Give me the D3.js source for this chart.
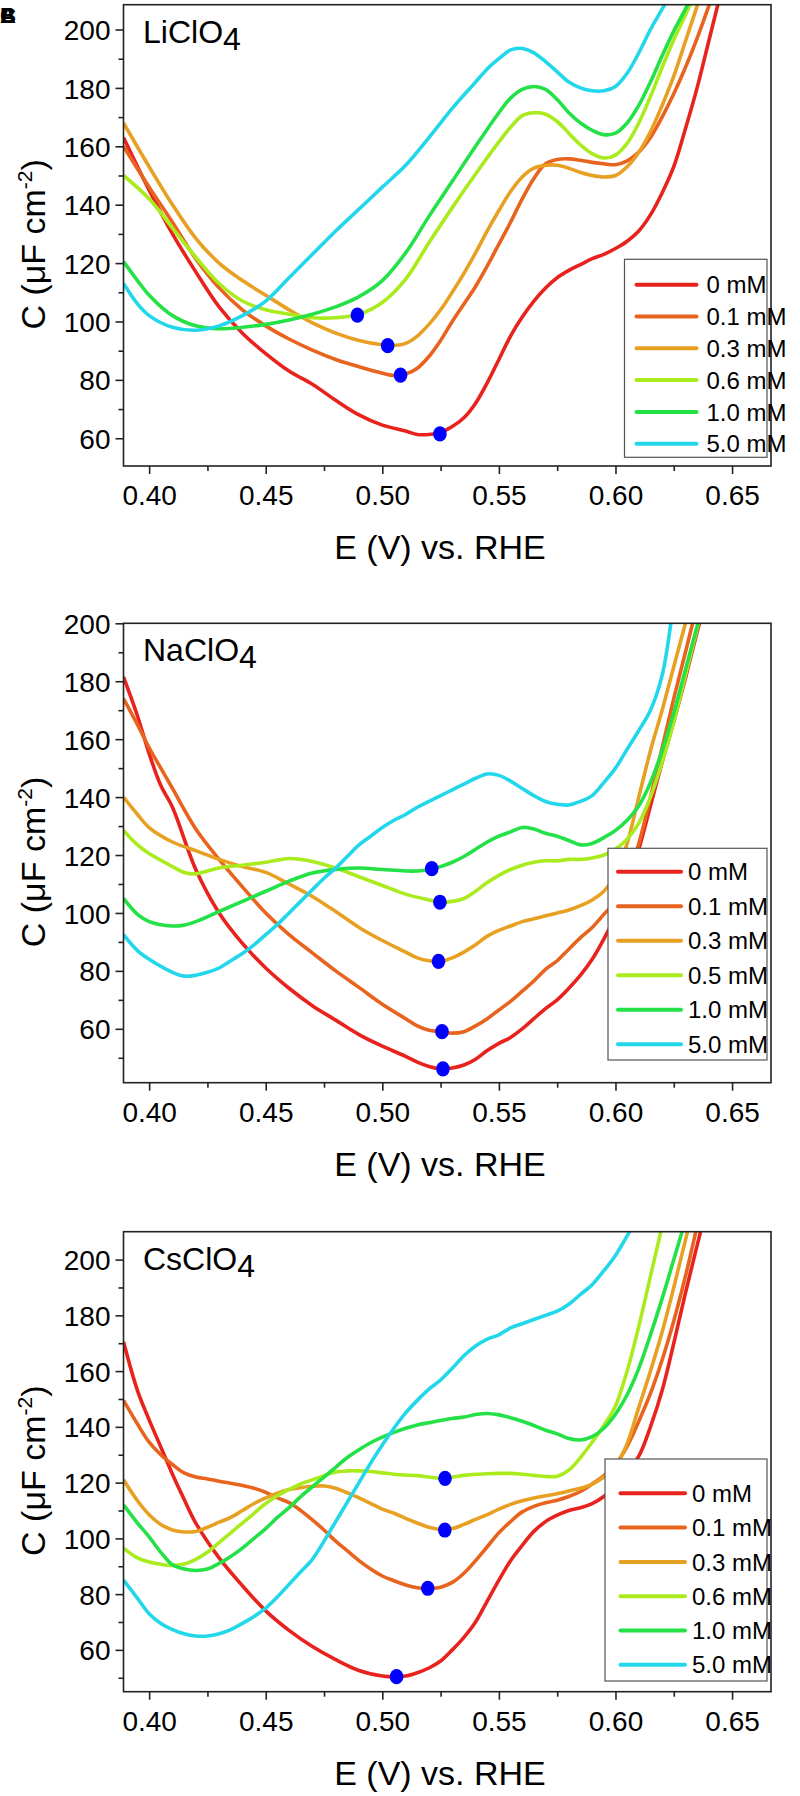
<!DOCTYPE html>
<html>
<head>
<meta charset="utf-8">
<script src="https://cdn.jsdelivr.net/npm/d3@7"></script>
<style>
  body { margin: 0; background: #fff; }
  svg { display: block; font-family: "Liberation Sans", Arial, sans-serif; }
</style>
</head>
<body>
<svg id="chart" width="800" height="1796"></svg>
<script>
// ---- data: [E (V), C (uF cm-2)] ----
const seriesColors = ["#e8231e", "#e8641e", "#e8a023", "#aaeb1e", "#23e146", "#23d7eb"];

// LiClO4
const li0 = [[0.389,163],[0.40,145],[0.41,130],[0.42,117],[0.43,105],[0.44,96],[0.45,89],[0.46,83],[0.47,78.5],[0.48,73],[0.49,68],[0.50,64.5],[0.51,62.5],[0.515,61.3],[0.52,61.3],[0.525,62],[0.53,64],[0.535,67],[0.54,72],[0.545,79],[0.55,87],[0.555,95],[0.56,101.5],[0.565,107],[0.57,111.5],[0.575,115],[0.58,117.5],[0.585,119.5],[0.59,121.5],[0.595,123],[0.60,125],[0.605,127.5],[0.61,131],[0.615,136.5],[0.62,144],[0.625,153],[0.63,166],[0.635,180],[0.64,196],[0.645,212]];
const li01 = [[0.389,160],[0.40,146],[0.41,134],[0.42,121.5],[0.43,111.5],[0.44,104],[0.45,98.5],[0.46,94],[0.47,90.2],[0.48,87],[0.49,84.5],[0.50,82.3],[0.505,81.5],[0.51,82],[0.515,84],[0.52,88],[0.525,93.5],[0.53,100],[0.535,106],[0.54,112],[0.545,119],[0.55,126.5],[0.555,134],[0.56,142],[0.565,149],[0.57,154],[0.575,155.5],[0.58,155.7],[0.585,155.2],[0.59,154.5],[0.595,154],[0.60,153.7],[0.605,155],[0.61,158],[0.615,163],[0.62,170],[0.625,178],[0.63,187],[0.635,197],[0.64,208],[0.645,220]];
const li03 = [[0.389,168],[0.40,153],[0.41,140],[0.42,128.5],[0.43,120],[0.44,114],[0.45,109],[0.46,104],[0.47,99.5],[0.48,96],[0.49,93.5],[0.50,92],[0.505,91.8],[0.51,92.5],[0.515,95],[0.52,99],[0.525,104],[0.53,110],[0.535,116.5],[0.54,123.5],[0.545,131],[0.55,138],[0.555,144.5],[0.56,149.5],[0.565,152.5],[0.57,153.5],[0.575,153.5],[0.58,152.5],[0.585,151],[0.59,150],[0.595,149.5],[0.60,150],[0.605,153],[0.61,158],[0.615,165],[0.62,174],[0.625,184],[0.63,196],[0.635,208],[0.64,220]];
const li06 = [[0.389,150],[0.40,142],[0.41,132],[0.42,122],[0.43,113],[0.44,107],[0.45,104],[0.46,102.5],[0.47,101.3],[0.48,101.3],[0.49,102.5],[0.50,106.5],[0.51,114.5],[0.52,127],[0.53,139],[0.54,150.5],[0.55,161.5],[0.555,166.5],[0.56,170.5],[0.565,171.5],[0.57,171],[0.575,168.5],[0.58,164.5],[0.585,160.5],[0.59,157.5],[0.595,156],[0.60,157],[0.605,161],[0.61,168],[0.615,177],[0.62,187],[0.625,196.5],[0.63,205],[0.635,214]];
const li1 = [[0.389,120.5],[0.395,114],[0.40,109],[0.41,102],[0.42,98.5],[0.43,97.5],[0.44,98],[0.45,99],[0.46,100.5],[0.47,102.5],[0.48,105],[0.49,108.5],[0.50,114],[0.51,123.5],[0.52,136],[0.53,148],[0.54,160],[0.55,171.5],[0.555,176.5],[0.56,179.5],[0.565,180.5],[0.57,179.5],[0.575,176],[0.58,171.5],[0.585,168],[0.59,165.5],[0.595,164],[0.60,164.5],[0.605,168],[0.61,174],[0.615,182],[0.62,191],[0.625,199.5],[0.63,207],[0.635,215]];
const li5 = [[0.389,113],[0.395,106],[0.40,102],[0.41,98],[0.42,97],[0.43,98.5],[0.44,102],[0.45,107],[0.46,115],[0.47,123],[0.48,131],[0.49,138.5],[0.50,146],[0.51,153.5],[0.52,163],[0.53,173],[0.54,182],[0.545,186.5],[0.55,190],[0.555,193],[0.56,193.5],[0.565,192],[0.57,189],[0.575,185.5],[0.58,182],[0.585,180],[0.59,179],[0.595,179],[0.60,180.5],[0.605,185],[0.61,192],[0.615,200],[0.62,207],[0.625,214]];
const liDots = [[0.5247,61.5],[0.5078,81.6],[0.5023,91.7],[0.4893,102.2]];

// NaClO4
const na0 = [[0.389,181.5],[0.395,168],[0.40,155],[0.405,144],[0.41,136.5],[0.42,115],[0.43,100],[0.44,89.5],[0.45,81],[0.46,74],[0.47,68],[0.48,63],[0.49,58],[0.50,54],[0.51,50.5],[0.515,48.5],[0.52,47],[0.525,46.2],[0.53,46.5],[0.535,47.5],[0.54,49.5],[0.545,52.5],[0.55,55],[0.555,57],[0.56,60],[0.565,63.5],[0.57,67],[0.575,70],[0.58,74],[0.585,78.5],[0.59,84],[0.595,91],[0.60,99],[0.605,110],[0.61,122],[0.615,137],[0.62,152],[0.625,166],[0.63,181],[0.635,197],[0.64,212]];
const na01 = [[0.389,174],[0.395,165],[0.40,157],[0.405,150],[0.41,143],[0.42,129],[0.43,118.5],[0.44,109],[0.45,100],[0.46,92.5],[0.47,86.2],[0.48,80],[0.49,74.3],[0.50,68.5],[0.51,63.5],[0.515,61],[0.52,59.5],[0.525,59],[0.53,58.5],[0.535,59],[0.54,61],[0.545,63.5],[0.55,66.5],[0.555,69.5],[0.56,73],[0.565,76.5],[0.57,80.5],[0.575,83.5],[0.58,87.5],[0.585,91.5],[0.59,95],[0.595,99.5],[0.60,104],[0.605,112],[0.61,124],[0.615,140],[0.62,157],[0.625,174],[0.63,190],[0.635,206],[0.64,220]];
const na03 = [[0.389,140],[0.395,134],[0.40,129.5],[0.41,124.5],[0.42,121.5],[0.43,118.5],[0.44,116],[0.45,114],[0.46,110],[0.47,105.7],[0.48,100.5],[0.49,95],[0.50,90.5],[0.51,86.5],[0.515,84.5],[0.52,83.5],[0.525,83.3],[0.53,84.5],[0.535,86.5],[0.54,89],[0.545,92],[0.55,94],[0.555,95.5],[0.56,97],[0.565,98],[0.57,99],[0.575,100],[0.58,101],[0.585,102.5],[0.59,104.5],[0.595,107.5],[0.60,113],[0.605,124],[0.61,140],[0.615,156],[0.62,170],[0.625,185],[0.63,200],[0.635,215]];
const na05 = [[0.389,128.5],[0.395,123.5],[0.40,120.5],[0.41,116],[0.415,114],[0.42,113.5],[0.425,114.5],[0.43,115.5],[0.44,116.5],[0.45,117.5],[0.46,118.8],[0.465,118.5],[0.47,117.8],[0.48,115.5],[0.49,112.5],[0.50,109.5],[0.51,106.5],[0.52,104.5],[0.525,103.7],[0.53,104],[0.535,105],[0.54,107.5],[0.545,110.5],[0.55,113],[0.555,115],[0.56,116.5],[0.565,117.5],[0.57,118],[0.575,118],[0.58,118.5],[0.585,118.5],[0.59,119],[0.595,120],[0.60,122],[0.605,125.5],[0.61,131],[0.615,140],[0.62,152],[0.625,166],[0.63,182],[0.635,198],[0.64,214]];
const na1 = [[0.389,105],[0.395,99.5],[0.40,97],[0.41,95.5],[0.415,95.8],[0.42,97],[0.43,100.5],[0.44,104],[0.45,107.5],[0.46,111],[0.47,113.8],[0.48,115],[0.49,115.5],[0.50,115],[0.51,114.5],[0.515,114.5],[0.52,115],[0.525,116],[0.53,117.5],[0.535,119.5],[0.54,122],[0.545,124.5],[0.55,126.5],[0.555,128],[0.56,129.5],[0.565,129],[0.57,127.5],[0.575,126.5],[0.58,125],[0.585,123.5],[0.59,124],[0.595,126],[0.60,128.5],[0.605,132],[0.61,137],[0.615,145],[0.62,156],[0.625,169],[0.63,184],[0.635,199],[0.64,214]];
const na5 = [[0.389,92.5],[0.395,87],[0.40,84],[0.41,79.5],[0.415,78.2],[0.42,78.5],[0.425,79.5],[0.43,81],[0.435,83.5],[0.44,86],[0.445,89],[0.45,92.5],[0.455,96],[0.46,100],[0.465,104],[0.47,108],[0.475,112],[0.48,115.5],[0.485,119.5],[0.49,123.5],[0.495,126.5],[0.50,129.5],[0.505,132],[0.51,134],[0.515,136.5],[0.52,138.5],[0.525,140.5],[0.53,142.5],[0.535,144.5],[0.54,146.5],[0.545,148],[0.55,147.5],[0.555,145.5],[0.56,143],[0.565,140.5],[0.57,138.5],[0.575,137.5],[0.58,137.3],[0.585,138.5],[0.59,140.5],[0.595,145],[0.60,150],[0.605,156.5],[0.61,163],[0.615,170],[0.62,182],[0.625,208]];
const naDots = [[0.526,46.2],[0.5256,59],[0.5241,83.3],[0.5247,103.7],[0.5212,115.3]];

// CsClO4
const cs0 = [[0.389,170.5],[0.395,153],[0.40,142.5],[0.405,132.8],[0.41,123],[0.415,114],[0.42,105.5],[0.43,93],[0.44,83],[0.45,74],[0.46,67],[0.47,61.2],[0.48,56.5],[0.49,52.6],[0.50,50.6],[0.505,50.3],[0.51,50.6],[0.515,51.8],[0.52,53.5],[0.525,56],[0.53,60],[0.535,64.5],[0.54,70],[0.545,77.5],[0.55,85],[0.555,92],[0.56,97.5],[0.565,102.5],[0.57,106],[0.575,108.3],[0.58,110],[0.585,111],[0.59,112.5],[0.595,115],[0.60,119],[0.605,124],[0.61,129.5],[0.615,140],[0.62,153],[0.625,170],[0.63,188],[0.635,205],[0.64,222]];
const cs01 = [[0.389,149.5],[0.395,141],[0.40,134.5],[0.405,130],[0.41,126.5],[0.415,123.5],[0.42,122],[0.425,121.3],[0.43,120.5],[0.435,119.8],[0.44,119],[0.445,118],[0.45,116.5],[0.455,114.5],[0.46,112.8],[0.465,110],[0.47,106.6],[0.475,103],[0.48,99],[0.485,95.5],[0.49,92],[0.495,89],[0.50,86.5],[0.505,84.8],[0.51,83.3],[0.515,82.3],[0.52,82.1],[0.525,82.5],[0.53,84.2],[0.535,87.5],[0.54,92],[0.545,97],[0.55,102],[0.555,106],[0.56,109.5],[0.565,111.5],[0.57,112.8],[0.575,113.7],[0.58,115],[0.585,116.8],[0.59,119.5],[0.595,122.5],[0.60,126.5],[0.605,133],[0.61,142],[0.615,152],[0.62,164],[0.625,178],[0.63,194],[0.635,212]];
const cs03 = [[0.389,121],[0.395,113.5],[0.40,108.5],[0.405,105],[0.41,103],[0.415,102.3],[0.42,102.5],[0.425,104],[0.43,105.8],[0.435,107.5],[0.44,110],[0.445,112.5],[0.45,114.5],[0.455,116.2],[0.46,117.5],[0.465,118.2],[0.47,118.7],[0.475,118.8],[0.48,118],[0.485,116.3],[0.49,114.5],[0.495,112.5],[0.50,110.5],[0.505,109],[0.51,107.2],[0.515,105.5],[0.52,104],[0.525,103.2],[0.53,103.5],[0.535,105],[0.54,106.8],[0.545,108.5],[0.55,110.5],[0.555,112.2],[0.56,113.5],[0.565,114.5],[0.57,115.3],[0.575,116],[0.58,117],[0.585,118],[0.59,119.5],[0.595,122],[0.60,126],[0.605,134],[0.61,147],[0.615,160],[0.62,174],[0.625,190],[0.63,207],[0.635,224]];
const cs06 = [[0.389,96.5],[0.395,93],[0.40,91.5],[0.405,90.7],[0.41,90.3],[0.415,90.8],[0.42,92.5],[0.425,95],[0.43,98.5],[0.435,102],[0.44,105.5],[0.445,109],[0.45,112.5],[0.455,115.3],[0.46,117.5],[0.465,119.5],[0.47,121],[0.475,122.5],[0.48,123.8],[0.485,124.2],[0.49,124.2],[0.495,124],[0.50,123.5],[0.505,123],[0.51,122.7],[0.515,122.5],[0.52,122],[0.525,121.6],[0.53,122],[0.535,122.6],[0.54,123],[0.545,123.2],[0.55,123.3],[0.555,123.3],[0.56,123],[0.565,122.6],[0.57,122.2],[0.575,122.3],[0.58,124.5],[0.585,129],[0.59,134.5],[0.595,140.5],[0.60,147.5],[0.605,160],[0.61,176],[0.615,194],[0.62,212]];
const cs1 = [[0.389,112],[0.395,105.5],[0.40,100.5],[0.405,95],[0.41,90.5],[0.415,89],[0.42,88.5],[0.425,89],[0.43,91],[0.435,93.5],[0.44,96.5],[0.445,100],[0.45,103.5],[0.455,107.5],[0.46,111],[0.465,115],[0.47,118.5],[0.475,122],[0.48,125.5],[0.485,129],[0.49,131.8],[0.495,134.3],[0.50,136.3],[0.505,138],[0.51,139.5],[0.515,140.7],[0.52,141.5],[0.525,142.3],[0.53,143],[0.535,143.5],[0.54,144.4],[0.545,144.8],[0.55,144.3],[0.555,143.3],[0.56,142],[0.565,140.5],[0.57,138.8],[0.575,137.5],[0.58,135.8],[0.585,135.3],[0.59,136.5],[0.595,139.5],[0.60,144.5],[0.605,151.5],[0.61,161],[0.615,173],[0.62,186],[0.625,200],[0.63,214]];
const cs5 = [[0.389,85],[0.395,78.5],[0.40,73],[0.405,69.5],[0.41,67.3],[0.415,65.8],[0.42,65],[0.425,65],[0.43,65.8],[0.435,67.3],[0.44,69.5],[0.445,72],[0.45,75],[0.455,79],[0.46,83.5],[0.465,88],[0.47,92.5],[0.475,99],[0.48,106],[0.485,113],[0.49,120],[0.495,127],[0.50,133.5],[0.505,139.5],[0.51,145],[0.515,149.5],[0.52,153.5],[0.525,156.8],[0.53,161],[0.535,165.5],[0.54,169],[0.545,171.5],[0.55,173],[0.555,175.5],[0.56,177],[0.565,178.5],[0.57,180],[0.575,181.5],[0.58,184],[0.585,187.5],[0.59,191],[0.595,196],[0.60,201.5],[0.605,208.5],[0.61,216]];
const csDots = [[0.5061,50.4],[0.5195,82.1],[0.5268,103],[0.5269,121.5]];

const labelsA = ["0 mM", "0.1 mM", "0.3 mM", "0.6 mM", "1.0 mM", "5.0 mM"];
const labelsB = ["0 mM", "0.1 mM", "0.3 mM", "0.5 mM", "1.0 mM", "5.0 mM"];
const xMajor = [0.40, 0.45, 0.50, 0.55, 0.60, 0.65];
const xMinor = [0.425, 0.475, 0.525, 0.575, 0.625];
const yMajor = [60, 80, 100, 120, 140, 160, 180, 200];
const yMinor = [50, 70, 90, 110, 130, 150, 170, 190];

// panel layout (pixels)
const plotLeft = 123.5, plotRight = 771;
const panels = [
  { id: "li", title: "LiClO", series: [li0, li01, li03, li06, li1, li5], dots: liDots, labels: labelsA,
    top: 4.7, bottom: 466, yDom: [50.5, 208.5],
    leg: { x: 624.5, y: 259.3, h: 198, row0: 25.4, dy: 31.8, l0: 12, l1: 72, tx: 82 } },
  { id: "na", title: "NaClO", series: [na0, na01, na03, na05, na1, na5], dots: naDots, labels: labelsB,
    top: 623.3, bottom: 1082.7, yDom: [41.4, 200],
    leg: { x: 608, y: 848.3, h: 211.7, row0: 23.4, dy: 34.5, l0: 10, l1: 73, tx: 80 } },
  { id: "cs", title: "CsClO", series: [cs0, cs01, cs03, cs06, cs1, cs5], dots: csDots, labels: labelsA,
    top: 1231.7, bottom: 1691.7, yDom: [45, 210],
    leg: { x: 605, y: 1459, h: 222, row0: 34.3, dy: 34.3, l0: 15.5, l1: 80, tx: 87 } }
];

const svg = d3.select("#chart");

// overlapped panel letters, top left corner
svg.append("g").selectAll("text").data(["A", "B", "C"]).join("text")
  .attr("x", 0).attr("y", 23)
  .style("font-size", "22px").style("font-weight", "bold")
  .text((d) => d);

const xScale = d3.scaleLinear().domain([0.389, 0.6667]).range([plotLeft, plotRight]);

panels.forEach((p) => {
  const yScale = d3.scaleLinear().domain(p.yDom).range([p.bottom, p.top]);
  const g = svg.append("g").attr("class", "panel-" + p.id);

  g.append("clipPath").attr("id", "clip-" + p.id)
    .append("rect")
    .attr("x", plotLeft).attr("y", p.top)
    .attr("width", plotRight - plotLeft).attr("height", p.bottom - p.top);

  const line = d3.line()
    .x((d) => xScale(d[0]))
    .y((d) => yScale(d[1]))
    .curve(d3.curveCatmullRom.alpha(0.5));

  g.append("g").attr("clip-path", `url(#clip-${p.id})`)
    .selectAll("path")
    .data(p.series)
    .join("path")
    .attr("d", (d) => line(d))
    .attr("fill", "none")
    .attr("stroke", (d, i) => seriesColors[i])
    .attr("stroke-width", 3.6)
    .attr("stroke-linejoin", "round");

  // blue minimum markers
  g.append("g").selectAll("ellipse")
    .data(p.dots)
    .join("ellipse")
    .attr("cx", (d) => xScale(d[0]))
    .attr("cy", (d) => yScale(d[1]))
    .attr("rx", 6.8).attr("ry", 7.6)
    .attr("fill", "#0000ff");

  // frame
  g.append("rect")
    .attr("x", plotLeft).attr("y", p.top)
    .attr("width", plotRight - plotLeft).attr("height", p.bottom - p.top)
    .attr("fill", "none").attr("stroke", "#222").attr("stroke-width", 1.6);

  // y axis major + minor
  const yAx = g.append("g").attr("transform", `translate(${plotLeft},0)`)
    .call(d3.axisLeft(yScale).tickValues(yMajor).tickSize(8).tickPadding(5).tickSizeOuter(0));
  g.append("g").attr("transform", `translate(${plotLeft},0)`)
    .call(d3.axisLeft(yScale).tickValues(yMinor.filter((v) => v > p.yDom[0] + 1)).tickSize(5).tickFormat("").tickSizeOuter(0))
    .call((a) => a.select(".domain").remove());
  yAx.select(".domain").remove();
  yAx.selectAll("text").style("font-size", "28px").attr("dy", "0.36em");

  // x axis major + minor
  const xAx = g.append("g").attr("transform", `translate(0,${p.bottom})`)
    .call(d3.axisBottom(xScale).tickValues(xMajor).tickSize(8).tickPadding(11).tickFormat(d3.format(".2f")).tickSizeOuter(0));
  g.append("g").attr("transform", `translate(0,${p.bottom})`)
    .call(d3.axisBottom(xScale).tickValues(xMinor).tickSize(5).tickFormat("").tickSizeOuter(0))
    .call((a) => a.select(".domain").remove());
  xAx.select(".domain").remove();
  xAx.selectAll("text").style("font-size", "28px");
  g.selectAll(".tick line").attr("stroke", "#222").attr("stroke-width", 1.6);
  g.selectAll(".tick text").attr("fill", "#000");

  // axis titles
  g.append("text")
    .attr("x", 440).attr("y", p.bottom + 93)
    .attr("text-anchor", "middle")
    .style("font-size", "34px")
    .text("E (V) vs. RHE");

  const yt = g.append("text")
    .attr("transform", `translate(45,${(p.top + p.bottom) / 2 + 9}) rotate(-90)`)
    .attr("text-anchor", "middle")
    .style("font-size", "34px");
  yt.append("tspan").text("C (\u03bcF cm");
  yt.append("tspan").attr("dy", -13).style("font-size", "21px").text("-2");
  yt.append("tspan").attr("dy", 13).text(")");

  // panel title with subscript 4
  const tt = g.append("text")
    .attr("x", 143).attr("y", p.top + 38)
    .style("font-size", "32px");
  tt.append("tspan").text(p.title);
  tt.append("tspan").attr("dy", 7).text("4");

  // legend
  const lg = g.append("g").attr("transform", `translate(${p.leg.x},${p.leg.y})`);
  lg.append("rect")
    .attr("width", plotRight - 4 - p.leg.x).attr("height", p.leg.h)
    .attr("fill", "#fff").attr("stroke", "#555").attr("stroke-width", 1.2);
  const items = lg.selectAll(".legend-item")
    .data(p.labels)
    .join("g")
    .attr("class", "legend-item")
    .attr("transform", (d, i) => `translate(0,${p.leg.row0 + i * p.leg.dy})`);
  items.append("line")
    .attr("x1", p.leg.l0).attr("x2", p.leg.l1)
    .attr("stroke", (d, i) => seriesColors[i])
    .attr("stroke-width", 4).attr("stroke-linecap", "round");
  items.append("text")
    .attr("x", p.leg.tx).attr("dy", "0.36em")
    .style("font-size", "24px")
    .text((d) => d);
});
</script>
</body>
</html>
